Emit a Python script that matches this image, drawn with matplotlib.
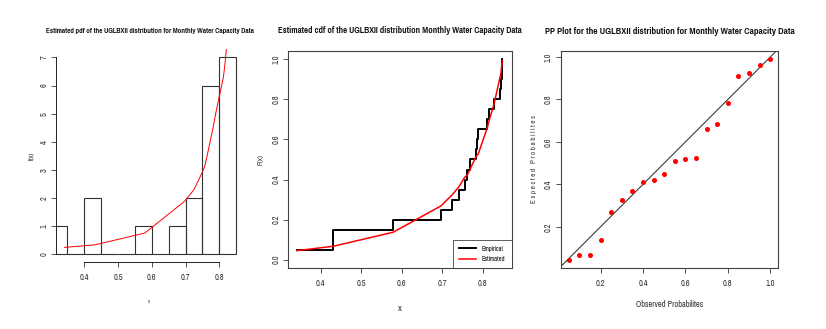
import numpy as np
import matplotlib
matplotlib.use('Agg')
import matplotlib.pyplot as plt
from matplotlib import font_manager

# schmale Schrift suchen (R-Ausgabe ist horizontal gestaucht)
names = {f.name for f in font_manager.fontManager.ttflist}
fam = 'DejaVu Sans'
for cand in ['Liberation Sans Narrow', 'Arial Narrow', 'Pragati Narrow', 'PT Sans Narrow',
             'Archivo Narrow', 'Roboto Condensed', 'Encode Sans Condensed']:
    if cand in names:
        fam = cand
        break
plt.rcParams['font.family'] = [fam, 'DejaVu Sans']

# Daten
x_data = [0.341, 0.431, 0.431, 0.579, 0.697, 0.725, 0.743, 0.756, 0.762, 0.769,
          0.783, 0.786, 0.789, 0.812, 0.815, 0.829, 0.843, 0.845, 0.847, 0.849]
pdf_est = [0.24, 0.33, 0.33, 0.75, 1.88, 2.30, 2.75, 3.10, 3.40, 3.80,
           4.60, 4.80, 5.00, 6.30, 6.60, 8.30, 10.0, 10.3, 10.6, 10.9]
cdf_est = [0.045, 0.067, 0.067, 0.137, 0.268, 0.324, 0.368, 0.412, 0.421, 0.451,
           0.511, 0.520, 0.526, 0.660, 0.686, 0.782, 0.909, 0.923, 0.964, 0.992]
hist_breaks = [0.30, 0.35, 0.40, 0.45, 0.50, 0.55, 0.60, 0.65, 0.70, 0.75, 0.80, 0.85]

x = np.array(x_data)
n = len(x)
ecdf = np.arange(1, n + 1) / n

W, H = 826, 329
fig = plt.figure(figsize=(W / 100, H / 100), dpi=100)
renderer = fig.canvas.get_renderer()

def box(l, t, r, b):
    return [l / W, (H - b) / H, (r - l) / W, (b - t) / H]

tc = '#333333'

def style(ax):
    ax.tick_params(direction='out', length=3.5, width=0.6, labelsize=6.5, colors=tc, pad=2)
    ax.tick_params(axis='x', pad=4.5)
    ax.tick_params(axis='y', labelrotation=90)
    for lab in ax.get_yticklabels():
        lab.set_va('center')

def title(ax, txt, cx, cy, width):
    # Titel auf die Breite im Original bringen
    t = fig.text(cx / W, 1 - cy / H, txt, ha='center', va='center',
                 fontsize=7, fontweight='bold', color='#111111')
    w = t.get_window_extent(renderer).width
    t.set_fontsize(7 * width / w)
    return t

# Panel 1: Histogramm + pdf
ax1 = fig.add_axes(box(56, 49, 243, 262))
ax1.hist(x, bins=hist_breaks, density=True, facecolor='none', edgecolor='#333333', linewidth=0.8)
ax1.plot(x, pdf_est, color='red', linewidth=0.7)
ax1.set_xlim(0.316, 0.87)
ax1.set_ylim(-0.28, 7.3)
ax1.set_xticks([0.4, 0.5, 0.6, 0.7, 0.8])
ax1.set_yticks(range(8))
for s in ['top', 'right']:
    ax1.spines[s].set_visible(False)
ax1.spines['left'].set_bounds(0, 7)
ax1.spines['bottom'].set_bounds(0.4, 0.8)
for s in ['left', 'bottom']:
    ax1.spines[s].set_linewidth(0.6)
style(ax1)
title(ax1, 'Estimated pdf of the UGLBXII distribution for Monthly Water Capacity Data', 149.5, 31, 209)
ax1.set_ylabel('f(x)', fontsize=5.5, color=tc, labelpad=3)
ax1.set_xlabel('x', fontsize=4, color=tc, labelpad=12)

# Panel 2: empirische und geschaetzte cdf
ax2 = fig.add_axes(box(288.3, 50.7, 511.7, 268.3))
ax2.step(x, ecdf, where='post', color='black', linewidth=1.4, label='Empirical')
ax2.plot(x, cdf_est, color='red', linewidth=1.1, label='Estimated')
ax2.set_xlim(0.320, 0.872)
ax2.set_ylim(-0.043, 1.043)
ax2.set_xticks([0.4, 0.5, 0.6, 0.7, 0.8])
ax2.set_yticks([0.0, 0.2, 0.4, 0.6, 0.8, 1.0])
for s in ax2.spines.values():
    s.set_linewidth(0.8)
    s.set_color('#444444')
style(ax2)
title(ax2, 'Estimated cdf of the UGLBXII distribution Monthly Water Capacity Data', 399.5, 30.5, 242)
ax2.set_ylabel('F(x)', fontsize=6, color=tc, labelpad=6)
ax2.set_xlabel('x', fontsize=7.5, color=tc, labelpad=11)
leg = ax2.legend(loc='lower right', fontsize=5, frameon=True, fancybox=False,
                 borderaxespad=0, handlelength=2.5, borderpad=0.9, labelspacing=0.6)
leg.get_frame().set_edgecolor('#333333')
leg.get_frame().set_linewidth(0.7)

# Panel 3: PP-Plot
ax3 = fig.add_axes(box(560.7, 50.7, 778.3, 267.7))
ax3.axline((0, 0), slope=1, color='#222222', linewidth=0.7)
ax3.plot(ecdf, cdf_est, 'o', color='red', markersize=2.6)
ax3.set_xlim(0.012, 1.038)
ax3.set_ylim(0.007, 1.030)
ax3.set_xticks([0.2, 0.4, 0.6, 0.8, 1.0])
ax3.set_yticks([0.2, 0.4, 0.6, 0.8, 1.0])
for s in ax3.spines.values():
    s.set_linewidth(0.8)
    s.set_color('#444444')
style(ax3)
title(ax3, 'PP Plot for the UGLBXII distribution for Monthly Water Capacity Data', 670, 31, 250)
ax3.set_ylabel('E x p e c t e d   P r o b a b i l i t e s', fontsize=5.5, color=tc, labelpad=5)
ax3.set_xlabel('Observed Probabilites', fontsize=6.5, color=tc, labelpad=9)

fig.savefig('out.png', dpi=100)
